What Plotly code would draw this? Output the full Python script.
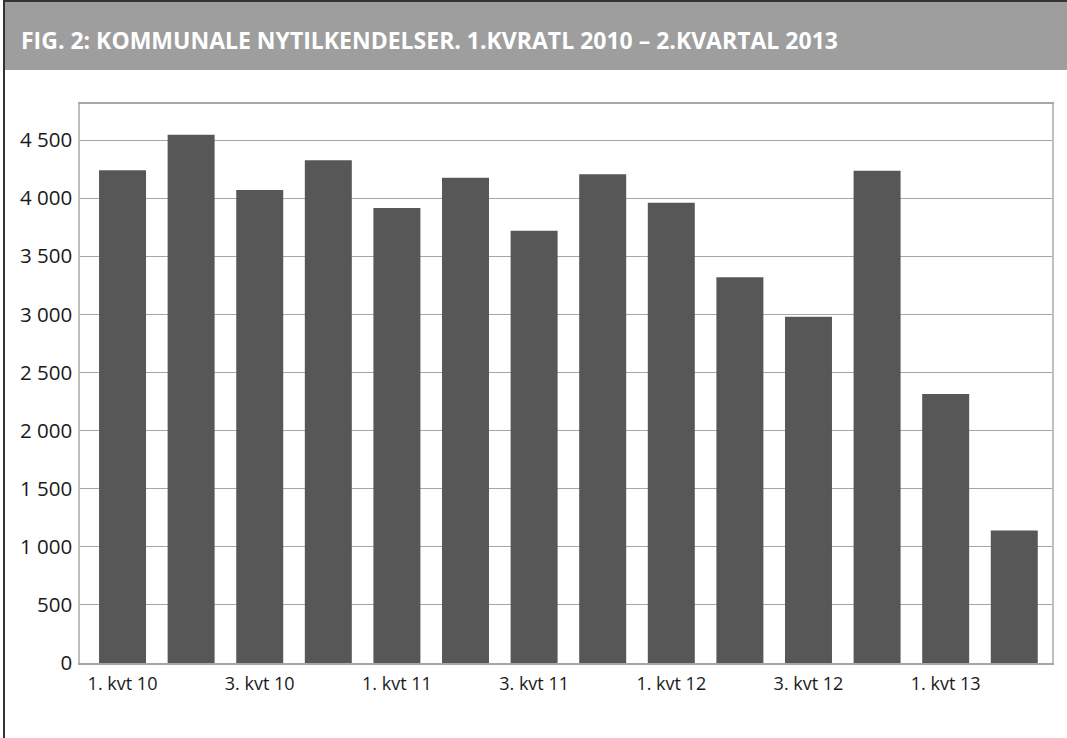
import plotly.graph_objects as go

categories = ["1. kvt 10", "2. kvt 10", "3. kvt 10", "4. kvt 10",
              "1. kvt 11", "2. kvt 11", "3. kvt 11", "4. kvt 11",
              "1. kvt 12", "2. kvt 12", "3. kvt 12", "4. kvt 12",
              "1. kvt 13", "2. kvt 13"]
values = [4240, 4545, 4070, 4325, 3915, 4175, 3720, 4205, 3960, 3320, 2980, 4235, 2315, 1140]
shown_ticks = ["1. kvt 10", "3. kvt 10", "1. kvt 11", "3. kvt 11", "1. kvt 12", "3. kvt 12", "1. kvt 13"]
y_ticks = [0, 500, 1000, 1500, 2000, 2500, 3000, 3500, 4000, 4500]
title = "FIG. 2: KOMMUNALE NYTILKENDELSER. 1.KVRATL 2010 – 2.KVARTAL 2013"

W, H = 1067, 738
L, R, T, B = 80, 15, 104, 75
pw, ph = W - L - R, H - T - B

def px(x):
    return (x - L) / pw

def py(y):
    return (H - B - y) / ph

fig = go.Figure(go.Bar(x=categories, y=values, marker=dict(color="#575757", line=dict(width=0)),
                       hoverinfo="x+y"))

fig.update_layout(
    width=W, height=H,
    margin=dict(l=L, r=R, t=T, b=B),
    paper_bgcolor="white", plot_bgcolor="white",
    bargap=0.315,
    separators=", ",
    showlegend=False,
    font=dict(family="Open Sans, Noto Sans, sans-serif", color="#1a1a1a"),
    xaxis=dict(tickmode="array", tickvals=shown_ticks, ticktext=shown_ticks,
               range=[-0.62, 13.55],
               tickfont=dict(size=18), showgrid=False, showline=True, linecolor="#a6a6a6",
               linewidth=1.5, ticks="", mirror=True, ticklabelstandoff=4),
    yaxis=dict(range=[0, 4810], tickvals=y_ticks, tickformat=",d", tickfont=dict(size=20.5),
               showgrid=True, gridcolor="#a6a6a6", gridwidth=1.3, showline=True,
               linecolor="#bfbfbf", linewidth=1.5, mirror=True, ticks="", zeroline=False,
               ticklabelstandoff=2),
    shapes=[
        dict(type="rect", xref="paper", yref="paper", x0=px(4), x1=px(W + 5), y0=py(70), y1=py(-5),
             fillcolor="#9d9e9d", line=dict(width=0), layer="below"),
        dict(type="line", xref="paper", yref="paper", x0=px(4), x1=px(4), y0=py(0), y1=py(H + 5),
             line=dict(color="#333333", width=2)),
        dict(type="line", xref="paper", yref="paper", x0=px(4), x1=px(W + 5), y0=py(1), y1=py(1),
             line=dict(color="#333333", width=2)),
    ],
    annotations=[
        dict(text="<b>" + title + "</b>", xref="paper", yref="paper", x=px(19), y=py(40),
             xanchor="left", yanchor="middle", showarrow=False,
             font=dict(size=23, color="white", family="Open Sans, Noto Sans, sans-serif")),
    ],
)

fig.write_html("out.html", config={"displayModeBar": False},
               post_script="document.body.style.margin='0';document.body.style.overflow='hidden';")
